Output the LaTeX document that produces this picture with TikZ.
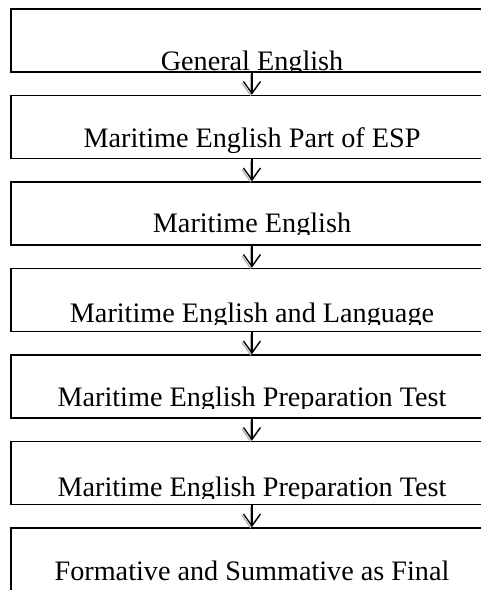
\documentclass[tikz,border=0pt]{standalone}
\usepackage{fontspec}
\setmainfont{Liberation Serif}
\usetikzlibrary{arrows.meta}

\begin{document}
\begin{tikzpicture}[x=1pt, y=-1pt,
    stage/.style={draw, line width=1.8pt, rectangle, minimum width=482pt, minimum height=63pt, inner sep=0pt},
    caption/.style={anchor=base, inner sep=0pt, font=\fontsize{28.2}{34}\selectfont},
    flow/.style={-{Straight Barb[length=12pt, width=17pt, line width=1.3pt]}, line width=1.2pt,
        preaction={draw=gray!60, transform canvas={xshift=-1.6pt, yshift=-1.4pt}}}]
            \clip (0,0) rectangle (481,590);
            
            \node[stage] (b1) at (252, 40.5)  {};
            \node[stage] (b2) at (252, 127)   {};
            \node[stage] (b3) at (252, 213.5) {};
            \node[stage] (b4) at (252, 300)   {};
            \node[stage] (b5) at (252, 386.5) {};
            \node[stage] (b6) at (252, 473)   {};
            \node[stage] (b7) at (252, 559.5) {};
            
            % text sits low in the boxes, descenders cut off
            \begin{scope}
            \clip (b1.north west) rectangle (b1.south east);
            \node[caption] (t1) at ([yshift=2pt]b1.south) {General English};
            \end{scope}
            
            \node[caption] (t2) at ([yshift=12pt]b2.south) {Maritime English Part of ESP};
            
            \begin{scope}
            \clip (b3.north west) rectangle ([yshift=11pt]b3.south east);
            \node[caption] (t3) at ([yshift=13pt]b3.south) {Maritime English};
            \end{scope}
            
            \begin{scope}
            \clip (b4.north west) rectangle ([yshift=8pt]b4.south east);
            \node[caption] (t4) at ([yshift=10pt]b4.south) {Maritime English and Language};
            \end{scope}
            
            \begin{scope}
            \clip (b5.north west) rectangle ([yshift=10pt]b5.south east);
            \node[caption] (t5) at ([yshift=12pt]b5.south) {Maritime English Preparation Test};
            \end{scope}
            
            \begin{scope}
            \clip (b6.north west) rectangle ([yshift=7pt]b6.south east);
            \node[caption] (t6) at ([yshift=9pt]b6.south) {Maritime English Preparation Test};
            \end{scope}
            
            \node[caption] (t7) at ([yshift=11pt]b7.south) {Formative and Summative as Final};
            
            \draw[flow] (b1)--(b2);
            \draw[flow] (b2)--(b3);
            \draw[flow] (b3)--(b4);
            \draw[flow] (b4)--(b5);
            \draw[flow] (b5)--(b6);
            \draw[flow] (b6)--(b7);
\end{tikzpicture}
\end{document}
